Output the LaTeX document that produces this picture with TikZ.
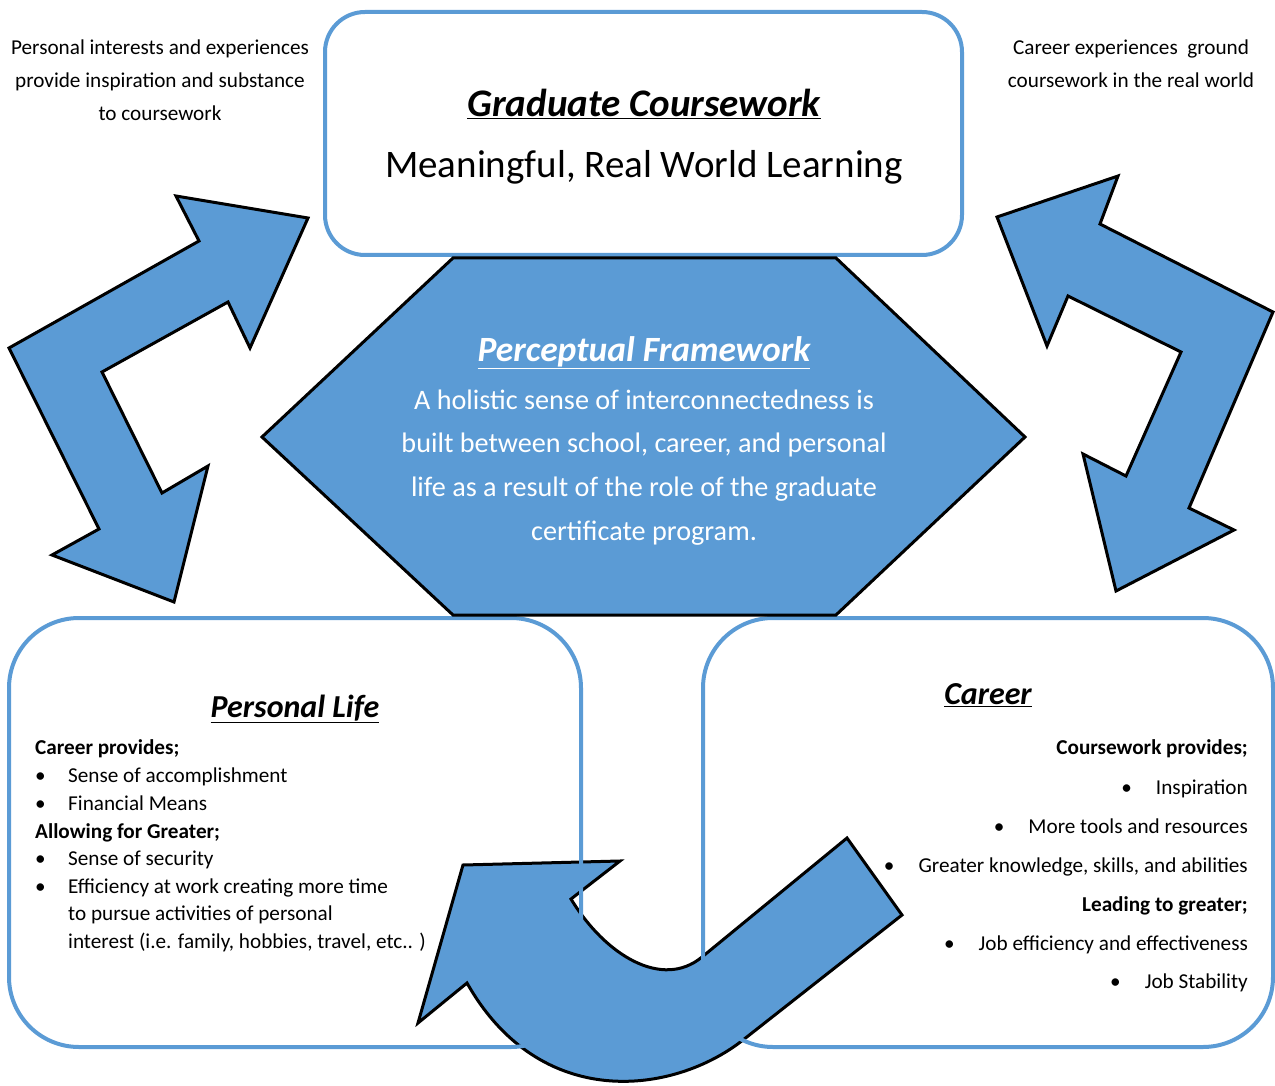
\documentclass[tikz,border=0pt]{standalone}
\usepackage{fontspec}
\setmainfont{Carlito}
\definecolor{ablue}{RGB}{91,155,213}
\tikzset{
  blueshape/.style={fill=ablue, draw=black, line width=3pt, line join=miter},
  boxline/.style={draw=ablue, line width=4pt},
  note/.style={font=\fontsize{21.2}{25}\selectfont, inner sep=0pt, anchor=mid},
  bigtitle/.style={font=\fontsize{39}{46}\selectfont\bfseries\itshape, inner sep=0pt, anchor=mid},
  bigtext/.style={font=\fontsize{39}{46}\selectfont, inner sep=0pt, anchor=mid},
  ptitle/.style={font=\fontsize{35.5}{42}\selectfont\bfseries\itshape, text=white, inner sep=0pt, anchor=mid},
  ptext/.style={font=\fontsize{28.2}{33}\selectfont, text=white, inner sep=0pt, anchor=mid},
  boxtitle/.style={font=\fontsize{32}{38}\selectfont\bfseries\itshape, inner sep=0pt, anchor=mid},
  item/.style={font=\fontsize{21.2}{25}\selectfont, inner sep=0pt},
}
\begin{document}
\begin{tikzpicture}[x=1pt,y=-1pt]
\useasboundingbox (0,0) rectangle (1275,1086);

% U-shaped arrow (drawn first, boxes over it)
\draw[blueshape] (463,865) -- (620,861) -- (571,899)
  .. controls (605,955) and (662,990) .. (702,957)
  -- (847,838) -- (902,915) -- (743,1040)
  .. controls (673,1095) and (540,1112) .. (467,983)
  -- (418,1023) -- cycle;

% boxes
\draw[boxline, rounded corners=40pt] (325,12) rectangle (962,255);
\draw[boxline, rounded corners=70pt] (9,618) rectangle (581,1047);
\draw[boxline, rounded corners=70pt] (703,618) rectangle (1273,1047);

% hexagon
\draw[blueshape] (453,258) -- (836,258) -- (1025,437) -- (836,615) -- (453,615) -- (262,437) -- cycle;

% left double arrow
\draw[blueshape] (9,348) -- (199,241) -- (176,196) -- (308,218) -- (250,348) -- (228,302)
  -- (102,372) -- (162,493) -- (208,466) -- (174,602) -- (52,555) -- (99,529) -- cycle;

% right double arrow
\draw[blueshape] (1118,176) -- (997,217) -- (1047,346) -- (1068,296) -- (1181,352)
  -- (1126,476) -- (1083,454) -- (1116,591) -- (1234,530) -- (1189,508) -- (1273,312)
  -- (1100,224) -- cycle;

% top-left note
\node[note] (tl1) at (160,52) {Personal interests and experiences};
\node[note] (tl2) at (160,85) {provide inspiration and substance};
\node[note] (tl3) at (160,118) {to coursework};

% top-right note
\node[note] (tr1) at (1131,52) {Career experiences\ \ ground};
\node[note] (tr2) at (1131,85) {coursework in the real world};

% top box texts
\node[bigtitle] (gct) at (644,114) {\underline{Graduate Coursework}};
\node[bigtext] (gcs) at (644,175) {Meaningful, Real World Learning};

% hexagon texts
\node[ptitle] (pft) at (644,359) {\underline{Perceptual Framework}};
\node[ptext] (pf1) at (644,407) {A holistic sense of interconnectedness is};
\node[ptext] (pf2) at (644,450) {built between school, career, and personal};
\node[ptext] (pf3) at (644,494) {life as a result of the role of the graduate};
\node[ptext] (pf4) at (644,538) {certificate program.};

% personal life
\node[boxtitle] (plt) at (295,715) {\underline{Personal Life}};
\node[item, anchor=mid west] (pl1) at (35,752) {\bfseries Career provides;};
\node[item, anchor=mid west] (pl2) at (35,780) {\makebox[33pt][l]{\textbullet}Sense of accomplishment};
\node[item, anchor=mid west] (pl3) at (35,808) {\makebox[33pt][l]{\textbullet}Financial Means};
\node[item, anchor=mid west] (pl4) at (35,836) {\bfseries Allowing for Greater;};
\node[item, anchor=mid west] (pl5) at (35,863) {\makebox[33pt][l]{\textbullet}Sense of security};
\node[item, anchor=mid west] (pl6) at (35,891) {\makebox[33pt][l]{\textbullet}Efficiency at work creating more time};
\node[item, anchor=mid west] (pl7) at (68,918) {to pursue activities of personal};
\node[item, anchor=mid west] (pl8) at (68,946) {interest (i.e. family, hobbies, travel, etc.. )};

% career
\node[boxtitle] (cat) at (988,702) {\underline{Career}};
\node[item, anchor=mid east] (ca1) at (1248,752) {\bfseries Coursework provides;};
\node[item, anchor=mid east] (ca2) at (1248,792) {\textbullet\hspace{24pt}Inspiration};
\node[item, anchor=mid east] (ca3) at (1248,831) {\textbullet\hspace{24pt}More tools and resources};
\node[item, anchor=mid east] (ca4) at (1248,870) {\textbullet\hspace{24pt}Greater knowledge, skills, and abilities};
\node[item, anchor=mid east] (ca5) at (1248,909) {\bfseries Leading to greater;};
\node[item, anchor=mid east] (ca6) at (1248,948) {\textbullet\hspace{24pt}Job efficiency and effectiveness};
\node[item, anchor=mid east] (ca7) at (1248,986) {\textbullet\hspace{24pt}Job Stability};
\end{tikzpicture}
\end{document}
